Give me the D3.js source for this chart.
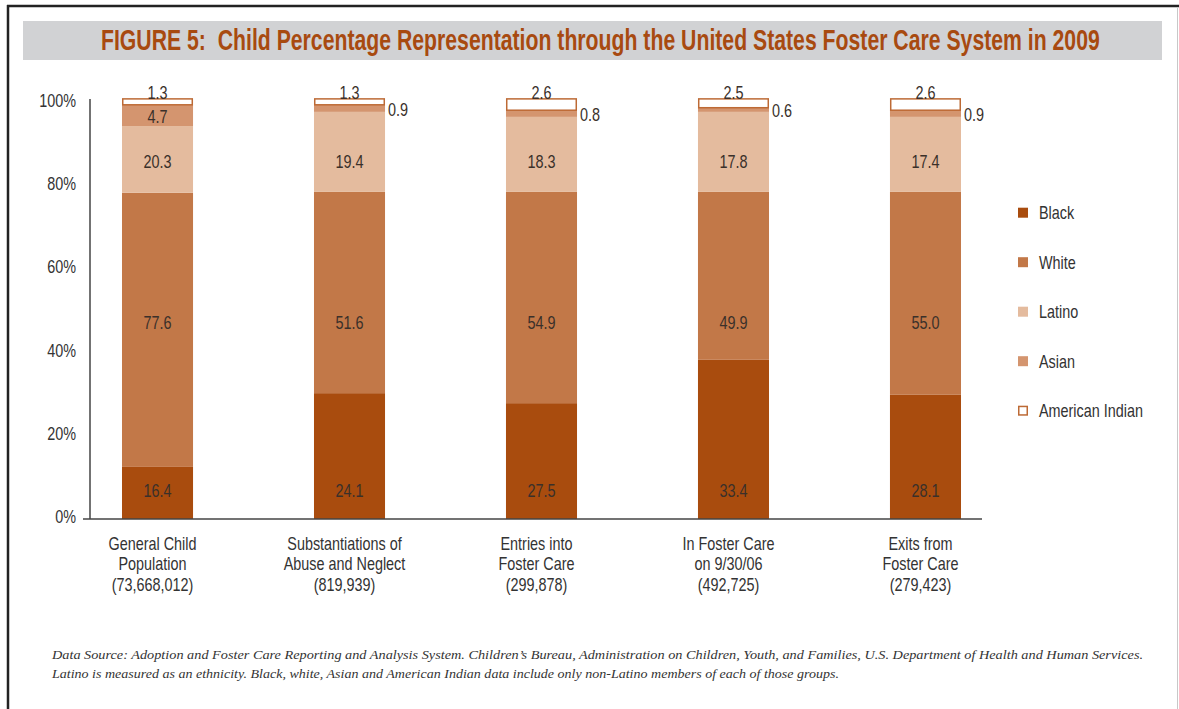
<!DOCTYPE html>
<html lang="en">
<head>
<meta charset="utf-8">
<title>Figure 5 - foster care</title>
<script src="https://d3js.org/d3.v7.min.js"></script>
<style>
  body { margin: 0; background: #fff; }
  svg text { font-family: "Liberation Sans", Arial, sans-serif; fill: #333; }
</style>
</head>
<body>
<script>
// ---------------- data ----------------
var categories = ["General Child", "Substantiations", "Entries", "In Foster Care", "Exits"];
var categoryLines = [
  ["General Child", "Population", "(73,668,012)"],
  ["Substantiations of", "Abuse and Neglect", "(819,939)"],
  ["Entries into", "Foster Care", "(299,878)"],
  ["In Foster Care", "on 9/30/06", "(492,725)"],
  ["Exits from", "Foster Care", "(279,423)"]
];
var series = ["Black", "White", "Latino", "Asian", "American Indian"];

// printed values
var blackLbl  = ["16.4", "24.1", "27.5", "33.4", "28.1"];
var whiteLbl  = ["77.6", "51.6", "54.9", "49.9", "55.0"];
var latinoLbl = ["20.3", "19.4", "18.3", "17.8", "17.4"];
var asianLbl  = ["4.7", "0.9", "0.8", "0.6", "0.9"];
var amIndLbl  = ["1.3", "1.3", "2.6", "2.5", "2.6"];

// segment heights as they are drawn in the original (they do not follow the printed numbers)
var blackH  = [12.5, 30.2, 27.8, 38.2, 29.8];
var whiteH  = [65.8, 48.3, 50.7, 40.3, 48.7];
var latinoH = [16.0, 19.2, 18.0, 19.2, 18.0];
var asianH  = [5.1, 1.7, 1.6, 1.0, 1.6];
var amIndH  = [1.6, 1.6, 2.9, 2.3, 2.9];

var yTicks = [0, 20, 40, 60, 80, 100];

// ---------------- setup ----------------
var w = 1179, h = 709;
var narrow = 0.8; // no condensed font installed -> squeeze Liberation Sans
var color = {
  "Black": "#a94c0e",
  "White": "#c27848",
  "Latino": "#e4bb9e",
  "Asian": "#d4956f",
  "American Indian": "#ffffff"
};
var aiStroke = "#bd6a35";

var rows = categories.map(function(c, i) {
  return {cat: c, "Black": blackH[i], "White": whiteH[i], "Latino": latinoH[i],
          "Asian": asianH[i], "American Indian": amIndH[i]};
});
var labels = {
  "Black": blackLbl, "White": whiteLbl, "Latino": latinoLbl,
  "Asian": asianLbl, "American Indian": amIndLbl
};

var stack = d3.stack().keys(series);
var layers = stack(rows);

var yScale = d3.scaleLinear().domain([0, 100]).range([519, 102.3]);
var xScale = d3.scaleBand().domain(categories).range([26, 1057])
  .paddingInner(0.63).paddingOuter(0.5);
var bw = xScale.bandwidth();

var svg = d3.select("body").append("svg")
  .attr("width", w).attr("height", h);

// squeezed text helper
function ntext(parent, x, y, s, sx) {
  return parent.append("text")
    .attr("transform", "translate(" + x + "," + y + ") scale(" + (sx || narrow) + ",1)");
}

// frame
svg.append("line").attr("x1", 7).attr("x2", w).attr("y1", 6).attr("y2", 6)
  .attr("stroke", "#222").attr("stroke-width", 2.5);
svg.append("line").attr("x1", 8).attr("x2", 8).attr("y1", 5).attr("y2", h)
  .attr("stroke", "#222").attr("stroke-width", 2.5);
svg.append("line").attr("x1", 1177.5).attr("x2", 1177.5).attr("y1", 7).attr("y2", h)
  .attr("stroke", "#c8c8c8").attr("stroke-width", 1);

// title band
svg.append("rect").attr("x", 23).attr("y", 21).attr("width", 1139).attr("height", 39)
  .attr("fill", "#d1d2d4");
var title = svg.append("text")
  .style("font-size", "29px").style("font-weight", "bold").style("fill", "#a84a10")
  .text("FIGURE 5:  Child Percentage Representation through the United States Foster Care System in 2009");
title.attr("xml:space", "preserve").style("white-space", "pre");
var tl = title.node().getComputedTextLength();
title.attr("transform", "translate(101,50) scale(" + (999 / tl) + ",1)");

// bars
var g = svg.append("g");
layers.forEach(function(layer) {
  var key = layer.key;
  var ai = key === "American Indian";
  g.selectAll(null)
    .data(layer)
    .enter()
    .append("rect")
    .attr("x", function(d) { return xScale(d.data.cat) + (ai ? 0.75 : 0); })
    .attr("width", ai ? bw - 1.5 : bw)
    .attr("y", function(d) { return yScale(d[1]) + (ai ? 0.75 : 0); })
    .attr("height", function(d) { return yScale(d[0]) - yScale(d[1]) - (ai ? 0.75 : 0); })
    .attr("fill", color[key])
    .attr("stroke", ai ? aiStroke : "none")
    .attr("stroke-width", 1.5);
});

// value labels
function addLabels(key, pos) {
  var layer = layers.find(function(l) { return l.key === key; });
  layer.forEach(function(d, i) {
    var p = pos(d, i);
    ntext(g, p[0], p[1], null, 0.78)
      .attr("text-anchor", p[2])
      .attr("dy", p[3])
      .style("font-size", "18.5px")
      .style("fill", "#3a302a")
      .text(labels[key][i]);
  });
}
function mid(d) { return xScale(d.data.cat) + bw / 2; }
addLabels("Black", function(d) { return [mid(d), yScale(7.0), "middle", "0.36em"]; });
addLabels("White", function(d) { return [mid(d), yScale(47.3), "middle", "0.36em"]; });
addLabels("Latino", function(d) { return [mid(d), yScale(85.9), "middle", "0.36em"]; });
addLabels("Asian", function(d, i) {
  var ym = yScale((d[0] + d[1]) / 2) + 1;
  return i === 0 ? [mid(d), ym, "middle", "0.36em"]
                 : [xScale(d.data.cat) + bw + 3, ym, "start", "0.36em"];
});
addLabels("American Indian", function(d) { return [mid(d), yScale(d[1]) + 0.5, "middle", "0"]; });

// y axis
var yAxis = d3.axisLeft(yScale)
  .tickValues(yTicks)
  .tickFormat(function(d) { return d + "%"; })
  .tickSize(0)
  .tickPadding(14);
var yg = svg.append("g").attr("transform", "translate(90,0)").call(yAxis);
yg.select(".domain").remove();
yg.selectAll("text")
  .attr("x", -14 / narrow)
  .attr("y", -2)
  .attr("transform", "scale(" + narrow + ",1)")
  .style("font-size", "18px")
  .style("font-family", "'Liberation Sans', Arial, sans-serif")
  .attr("fill", "#333");
svg.append("line").attr("x1", 90).attr("x2", 90)
  .attr("y1", yScale(0)).attr("y2", yScale(100.8))
  .attr("stroke", "#444").attr("stroke-width", 1.5);

// x axis baseline and category labels
svg.append("line").attr("x1", 83).attr("x2", 982)
  .attr("y1", yScale(0)).attr("y2", yScale(0))
  .attr("stroke", "#444").attr("stroke-width", 1.5);

categories.forEach(function(c, i) {
  var t = ntext(svg, xScale(c) + bw / 2 - 5, 549.5)
    .attr("text-anchor", "middle")
    .style("font-size", "18px");
  categoryLines[i].forEach(function(line, j) {
    t.append("tspan").attr("x", 0).attr("y", j * 21).text(line);
  });
});

// legend
var legend = svg.selectAll(".legend")
  .data(series)
  .enter()
  .append("g")
  .attr("class", "legend")
  .attr("transform", function(d, i) { return "translate(1018," + (212.7 + i * 49.5) + ")"; });
legend.append("rect")
  .attr("x", function(d) { return d === "American Indian" ? 0.75 : 0; })
  .attr("y", function(d) { return d === "American Indian" ? -4.25 : -5; })
  .attr("width", function(d) { return d === "American Indian" ? 8.5 : 10; })
  .attr("height", function(d) { return d === "American Indian" ? 8.5 : 10; })
  .attr("fill", function(d) { return color[d]; })
  .attr("stroke", function(d) { return d === "American Indian" ? aiStroke : "none"; })
  .attr("stroke-width", 1.5);
legend.each(function(d) {
  ntext(d3.select(this), 21, 0)
    .attr("dy", "0.36em")
    .style("font-size", "18px")
    .text(d);
});

// footnote
var note = [
  "Data Source: Adoption and Foster Care Reporting and Analysis System. Children\u2019s Bureau, Administration on Children, Youth, and Families, U.S. Department of Health and Human Services.",
  "Latino is measured as an ethnicity. Black, white, Asian and American Indian data include only non-Latino members of each of those groups."
];
var noteLen = [1091, 787];
svg.selectAll(".note")
  .data(note)
  .enter()
  .append("text")
  .attr("class", "note")
  .attr("x", 52)
  .attr("y", function(d, i) { return 659 + i * 18.5; })
  .attr("textLength", function(d, i) { return noteLen[i]; })
  .attr("lengthAdjust", "spacingAndGlyphs")
  .style("font-family", "'Liberation Serif', 'DejaVu Serif', serif")
  .style("font-style", "italic")
  .style("font-size", "13.5px")
  .style("fill", "#333")
  .text(function(d) { return d; });
</script>
</body>
</html>
